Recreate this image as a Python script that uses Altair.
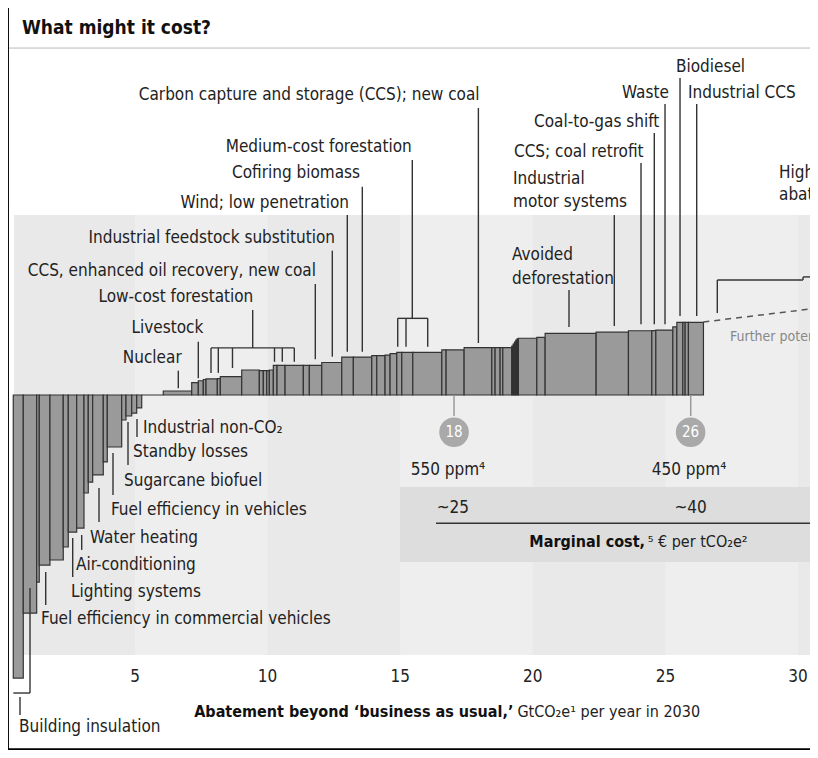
import altair as alt
import pandas as pd

# ---------------- data ----------------
# abatement curve: width of each lever (GtCO2e/yr) and its cost (EUR per tCO2e)
curve_start = 0.41
bar_width = [0.377, 0.505, 0.098, 0.403, 0.502, 0.189, 0.317, 0.275, 0.162, 0.166,
             0.400, 0.151, 0.543, 0.162, 0.215, 0.189, 0.189,
             0.814,
             1.071, 0.249, 0.189, 0.102, 0.426, 0.113, 0.807, 0.664, 0.151, 0.128,
             0.098, 0.151, 0.140, 0.302, 0.690, 0.226, 0.468,
             0.754, 0.437, 0.694, 0.189, 0.313, 0.189, 0.253, 0.189, 0.415, 1.094,
             0.162, 0.679, 1.044, 0.124, 0.189, 0.102, 0.339,
             0.05, 0.05, 0.05, 0.05, 0.05,
             0.694, 0.313, 1.923, 1.218, 0.882, 0.151, 0.641, 0.151, 0.226, 0.087,
             0.124, 0.566]
bar_cost = [-155.1, -119.5, -102.5, -93.2, -90.4, -83.3, -75.1, -72.9, -53.7, -47.7,
            -43.8, -36.7, -28.5, -13.7, -11.5, -9.9, -7.1,
            0.0,
            2.2, 6.8, 7.8, 8.5, 8.8, 9.0, 10.1, 13.7, 13.4, 13.4,
            13.4, 13.7, 16.2, 16.2, 16.2, 16.2, 16.2,
            17.8, 20.8, 20.8, 21.6, 21.6, 21.9, 22.7, 23.4, 23.4, 23.4,
            24.7, 24.7, 26.0, 26.0, 26.0, 26.0, 26.0,
            26.8, 27.9, 29.0, 30.1, 30.7,
            31.1, 31.6, 33.8, 34.4, 35.2, 35.3, 35.6, 37.3, 39.8, 39.8,
            39.8, 39.8]

tick_values = [5, 10, 15, 20, 25, 30]

target_abatement = [17.03, 25.95]
target_labels = ["18", "26"]
ppm_labels = ["550 ppm⁴", "450 ppm⁴"]
marginal_costs = ["~25", "~40"]

left_labels = ["Industrial non-CO₂", "Standby losses", "Sugarcane biofuel",
               "Fuel efficiency in vehicles", "Water heating", "Air-conditioning",
               "Lighting systems", "Fuel efficiency in commercial vehicles",
               "Building insulation",
               "Avoided", "deforestation", "Industrial", "motor systems",
               "CCS; coal retrofit", "Coal-to-gas shift", "Waste", "Biodiesel",
               "Industrial CCS", "Higher cost", "abatement"]
right_labels = ["Carbon capture and storage (CCS); new coal", "Medium-cost forestation",
                "Cofiring biomass", "Wind; low penetration",
                "Industrial feedstock substitution",
                "CCS, enhanced oil recovery, new coal", "Low-cost forestation",
                "Livestock", "Nuclear"]

# ---------------- annotation anchors (data units) ----------------
left_pos = [(5.302, -18.1), (4.925, -31.2), (4.585, -47.1), (4.095, -63.0),
            (3.303, -78.4), (2.775, -93.2), (2.587, -108.0), (1.456, -122.7),
            (0.626, -181.9),
            (19.216, 76.7), (19.216, 63.6), (19.253, 118.4), (19.253, 105.8),
            (19.291, 133.2), (20.045, 149.6), (23.364, 165.5), (25.400, 179.7),
            (25.852, 165.5), (29.284, 121.6), (29.284, 109.6)]
right_pos = [(17.994, 164.4), (15.434, 135.9), (13.484, 121.6), (13.069, 105.4),
             (12.541, 86.2), (11.825, 68.1), (9.461, 53.5), (7.575, 36.5),
             (6.761, 20.4)]

leader_segments = [
    (5.075, -13.2, 5.075, -23.0), (4.736, -14.8, 4.736, -38.4),
    (4.170, -31.8, 4.170, -54.8), (3.643, -51.0, 3.643, -69.6),
    (2.990, -76.7, 2.990, -84.9), (2.651, -78.4, 2.651, -99.7),
    (1.633, -97.0, 1.633, -115.1), (1.041, -105.8, 1.041, -163.3),
    (0.411, -163.3, 1.041, -163.3), (0.664, -165.5, 0.664, -175.3),
    (17.948, 157.3, 17.948, 28.5), (15.456, 128.8, 15.456, 42.0),
    (14.906, 42.0, 16.037, 42.0), (14.906, 42.0, 14.906, 26.5),
    (15.219, 42.0, 15.219, 26.5), (16.037, 42.0, 16.037, 26.5),
    (13.571, 114.1, 13.571, 23.7), (13.005, 98.6, 13.005, 23.7),
    (12.440, 79.1, 12.440, 21.0), (11.799, 60.8, 11.799, 19.6),
    (9.438, 46.6, 9.438, 25.8), (7.866, 25.8, 11.007, 25.8),
    (7.866, 25.8, 7.866, 12.1), (8.141, 25.8, 8.141, 12.1),
    (8.676, 25.8, 8.676, 14.8), (10.260, 25.8, 10.260, 18.2),
    (10.554, 25.8, 10.554, 18.2), (11.007, 25.8, 11.007, 18.2),
    (7.387, 29.2, 7.387, 9.2), (6.633, 13.3, 6.633, 3.7),
    (21.365, 57.5, 21.365, 37.3), (23.073, 98.6, 23.073, 37.8),
    (24.080, 127.1, 24.080, 38.7), (24.581, 143.6, 24.581, 38.7),
    (24.985, 159.5, 24.985, 38.7), (25.551, 173.7, 25.551, 43.3),
    (26.180, 159.5, 26.180, 43.3),
    (26.957, 63.0, 26.957, 44.9), (26.957, 63.0, 30.188, 63.0),
    (30.188, 63.0, 30.188, 64.7), (30.188, 64.7, 31.0, 64.7),
    (16.350, -70.3, 31.0, -70.3),
]
stem_segments = [(17.029, 0.0, 17.029, -11.5), (25.954, 0.0, 25.954, -11.5)]
dash_segments = [(26.43, 40.0, 30.9, 47.9)]
frame_segments = [(0.20, 212.0, 0.20, -194.3), (0.20, -194.3, 31.0, -194.3)]
header_segments = [(0.25, 190.1, 31.0, 190.1)]

# ---------------- scales ----------------
xs = alt.Scale(domain=[0.2112, 30.452], nice=False, zero=False)
ys = alt.Scale(domain=[-194.52, 212.05], nice=False, zero=False)
FONT = "Liberation Sans Narrow, Arial Narrow, DejaVu Sans Condensed, sans-serif"
INK = "#222222"


def X(f):
    return alt.X(f, type="quantitative", scale=xs, axis=None)


def Y(f):
    return alt.Y(f, type="quantitative", scale=ys, axis=None)


def seg_df(segs):
    return pd.DataFrame(segs, columns=["x", "y", "x2", "y2"])


def seg_layer(segs, **kw):
    return alt.Chart(seg_df(segs)).mark_rule(**kw).encode(
        x=X("x"), y=Y("y"), x2="x2:Q", y2="y2:Q")


def text_layer(texts, pos, **kw):
    df = pd.DataFrame({"t": texts, "x": [p[0] for p in pos], "y": [p[1] for p in pos]})
    return alt.Chart(df).mark_text(font=FONT, baseline="middle", **kw).encode(
        x=X("x"), y=Y("y"), text="t:N")


# ---------------- background panels ----------------
panels = pd.DataFrame({
    "x": [0.437, 0.437, 10.0, 20.0, 30.0, 14.992],
    "x2": [31.0, 5.0, 15.0, 25.0, 31.0, 31.0],
    "y": [-142.5, -142.5, -142.5, -142.5, -142.5, -91.5],
    "y2": [98.6, 98.6, 98.6, 98.6, 98.6, -50.4],
    "c": ["#eeeeee", "#e9e9e9", "#e9e9e9", "#e9e9e9", "#e9e9e9", "#dddddd"],
})
bg = alt.Chart(panels).mark_rect().encode(
    x=X("x"), x2="x2:Q", y=Y("y"), y2="y2:Q",
    fill=alt.Fill("c:N", scale=None))

# ---------------- bars ----------------
bars_df = pd.DataFrame({"i": range(len(bar_width)), "w": bar_width, "cost": bar_cost})
bars = alt.Chart(bars_df).transform_window(
    cum="sum(w)", sort=[alt.SortField("i")], frame=[None, 0]
).transform_calculate(
    x0=f"{curve_start} + datum.cum - datum.w",
    x1=f"{curve_start} + datum.cum",
    zero="0",
).mark_rect(stroke="#333333", strokeWidth=1.2).encode(
    x=X("x0"), x2="x1:Q", y=Y("cost"), y2="zero:Q",
    fill=alt.condition("datum.w < 0.06", alt.value("#1e1e1e"), alt.value("#9a9a9a")),
)

# ---------------- lines ----------------
leaders = seg_layer(leader_segments, color="#333333", strokeWidth=1.4)
stems = seg_layer(stem_segments, color="#9a9a9a", strokeWidth=1.5)
dashed = seg_layer(dash_segments, color="#555555", strokeWidth=1.5, strokeDash=[6, 5])
frame = seg_layer(frame_segments, color="#000000", strokeWidth=2.5)
header = seg_layer(header_segments, color="#bbbbbb", strokeWidth=1)

# ---------------- targets ----------------
tgt = pd.DataFrame({"x": target_abatement, "lab": target_labels})
circles = alt.Chart(tgt).transform_calculate(cy="-20.4").mark_circle(
    size=876, color="#a9a9a9", opacity=1).encode(x=X("x"), y=Y("cy"))
circle_txt = alt.Chart(tgt).transform_calculate(cy="-20.4").mark_text(
    font=FONT, fontSize=15, color="white", baseline="middle").encode(
    x=X("x"), y=Y("cy"), text="lab:N")

ppm_txt = text_layer(ppm_labels, [(16.802, -41.1), (25.890, -41.1)],
                     fontSize=17, color=INK, align="center")
mc_txt = text_layer([marginal_costs[1]], [(25.947, -61.9)], fontSize=17, color=INK,
                    align="center")

# ---------------- texts ----------------
lefts = text_layer(left_labels + [marginal_costs[0]], left_pos + [(16.376, -61.9)],
                   fontSize=17, color=INK, align="left")
rights = text_layer(right_labels, right_pos, fontSize=17, color=INK, align="right")
further = text_layer(["Further potential"], [(27.436, 31.8)], fontSize=14,
                     color="#888888", align="left")
ticks = text_layer([str(v) for v in tick_values], [(v, -154.5) for v in tick_values],
                   fontSize=17, color=INK, align="center")
bolds = text_layer(["Abatement beyond ‘business as usual,’", "Marginal cost,"],
                   [(19.27, -173.7), (24.23, -80.4)], fontSize=16, color="#111111",
                   align="right", fontWeight="bold")
normals = text_layer(["GtCO₂e¹ per year in 2030", "⁵ € per tCO₂e²"],
                     [(19.42, -173.7), (24.33, -80.4)], fontSize=16, color=INK,
                     align="left")
title = text_layer(["What might it cost?"], [(0.739, 201.1)], fontSize=19,
                   color="#111111", align="left", fontWeight="bold")

chart = alt.layer(
    bg, header, frame, bars, leaders, stems, dashed, circles, circle_txt,
    ppm_txt, mc_txt, lefts, rights, further, ticks, bolds, normals, title,
).properties(
    width=802, height=742, padding=0,
    autosize=alt.AutoSizeParams(type="none"),
    background="white",
).configure_view(stroke=None)

chart.save("out.html", embed_options={"renderer": "svg", "actions": False})
